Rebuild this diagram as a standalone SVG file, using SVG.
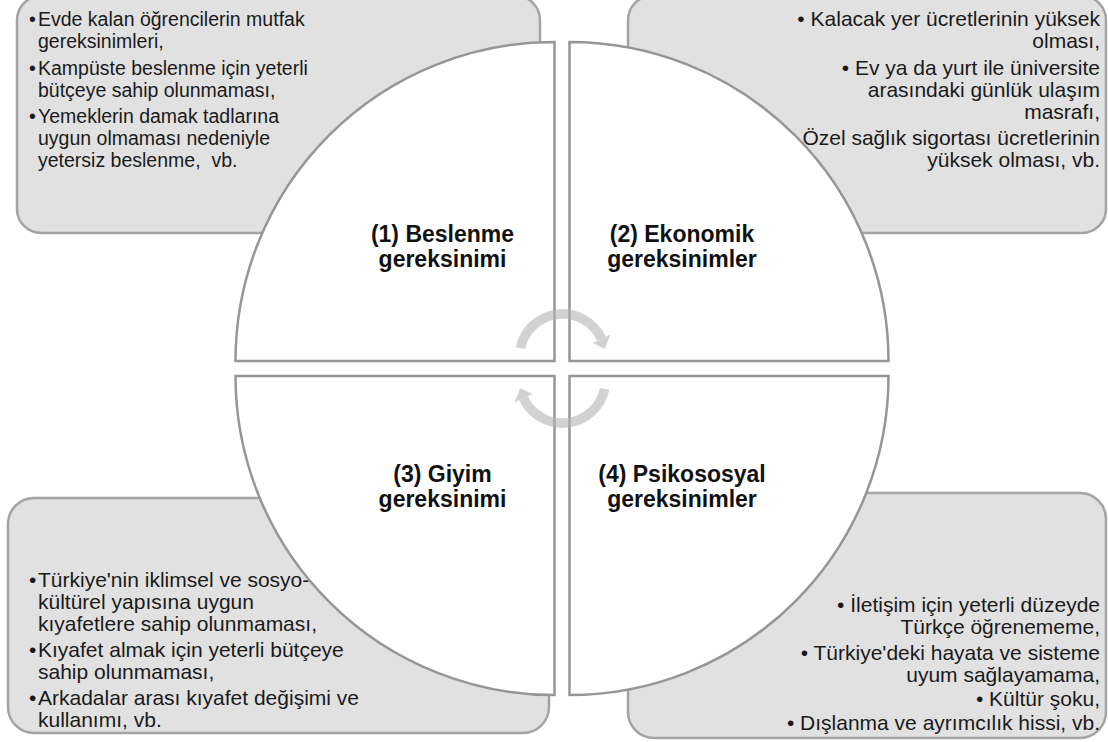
<svg xmlns="http://www.w3.org/2000/svg" width="1108" height="742" viewBox="0 0 1108 742">
<style>
.box{fill:#e1e1e1;stroke:#a3a3a3;stroke-width:2.5}
.q{fill:#ffffff;stroke:#969696;stroke-width:2.5;stroke-linejoin:miter}
.t{font-family:"Liberation Sans",Arial,sans-serif;font-size:19.5px;fill:#1a1a1a}
.big{font-size:21px}
.r{text-anchor:end}
.h{font-family:"Liberation Sans",Arial,sans-serif;font-size:23px;font-weight:bold;fill:#111;text-anchor:middle}
.arr{fill:none;stroke:#b5b5b5;stroke-width:9.5}
.ah{fill:#b5b5b5}
</style>
<rect width="1108" height="742" fill="#ffffff"/>
<g id="box1"><rect class="box" x="17" y="-4" width="523" height="237" rx="24"/>
<text class="t"><tspan x="29" y="26">•</tspan><tspan x="38" y="26">Evde kalan öğrencilerin mutfak</tspan><tspan x="38" y="48">gereksinimleri,</tspan><tspan x="29" y="75">•</tspan><tspan x="38" y="75">Kampüste beslenme için yeterli</tspan><tspan x="38" y="97">bütçeye sahip olunmaması,</tspan><tspan x="29" y="123">•</tspan><tspan x="38" y="123">Yemeklerin damak tadlarına</tspan><tspan x="38" y="145">uygun olmaması nedeniyle</tspan><tspan x="38" y="167">yetersiz beslenme,&#160; vb.</tspan></text></g>
<g id="box2"><rect class="box" x="628" y="-4" width="478" height="237" rx="24"/>
<text class="t big r"><tspan x="1100" y="26">• Kalacak yer ücretlerinin yüksek</tspan><tspan x="1100" y="48">olması,</tspan><tspan x="1100" y="75">• Ev ya da yurt ile üniversite</tspan><tspan x="1100" y="97">arasındaki günlük ulaşım</tspan><tspan x="1100" y="119">masrafı,</tspan><tspan x="1100" y="145">Özel sağlık sigortası ücretlerinin</tspan><tspan x="1100" y="167">yüksek olması, vb.</tspan></text></g>
<g id="box3"><rect class="box" x="8" y="498" width="541" height="235" rx="26"/>
<text class="t big"><tspan x="29" y="587">•</tspan><tspan x="38" y="587">Türkiye'nin iklimsel ve sosyo-</tspan><tspan x="38" y="609">kültürel yapısına uygun</tspan><tspan x="38" y="631">kıyafetlere sahip olunmaması,</tspan><tspan x="29" y="657">•</tspan><tspan x="38" y="657">Kıyafet almak için yeterli bütçeye</tspan><tspan x="38" y="679">sahip olunmaması,</tspan><tspan x="29" y="705">•</tspan><tspan x="38" y="705">Arkadalar arası kıyafet değişimi ve</tspan><tspan x="38" y="727">kullanımı, vb.</tspan></text></g>
<g id="box4"><rect class="box" x="628" y="493" width="478" height="245" rx="26"/>
<text class="t big r"><tspan x="1100" y="612">• İletişim için yeterli düzeyde</tspan><tspan x="1100" y="634">Türkçe öğrenememe,</tspan><tspan x="1100" y="660">• Türkiye'deki hayata ve sisteme</tspan><tspan x="1100" y="682">uyum sağlayamama,</tspan><tspan x="1100" y="706">• Kültür şoku,</tspan><tspan x="1100" y="730">• Dışlanma ve ayrımcılık hissi, vb.</tspan></text></g>
<g id="q1"><path class="q" d="M554.5,361 L554.5,42 A319,319 0 0 0 235.5,361 Z"/>
<text class="h"><tspan x="442.5" y="242">(1) Beslenme</tspan><tspan x="442.5" y="267">gereksinimi</tspan></text></g>
<g id="q2"><path class="q" d="M569.5,361 L569.5,42 A319,319 0 0 1 888.5,361 Z"/>
<text class="h"><tspan x="682" y="242">(2) Ekonomik</tspan><tspan x="682" y="267">gereksinimler</tspan></text></g>
<g id="q3"><path class="q" d="M554.5,376 L554.5,695 A319,319 0 0 1 235.5,376 Z"/>
<text class="h"><tspan x="442.5" y="482">(3) Giyim</tspan><tspan x="442.5" y="507">gereksinimi</tspan></text></g>
<g id="q4"><path class="q" d="M569.5,376 L569.5,695 A319,319 0 0 0 888.5,376 Z"/>
<text class="h"><tspan x="682" y="482">(4) Psikososyal</tspan><tspan x="682" y="507">gereksinimler</tspan></text></g>
<g id="connectors" opacity="0.6">
<path class="arr" d="M520.4,348.1 A43,43 0 0 1 601.5,338.8"/>
<polygon class="ah" points="610.6,334.6 592.4,343 604.7,348.8"/>
<path class="arr" d="M604.6,388.9 A43,43 0 0 1 523.5,398.2"/>
<polygon class="ah" points="514.4,402.4 532.6,394 520.3,388.2"/>
</g>
</svg>
